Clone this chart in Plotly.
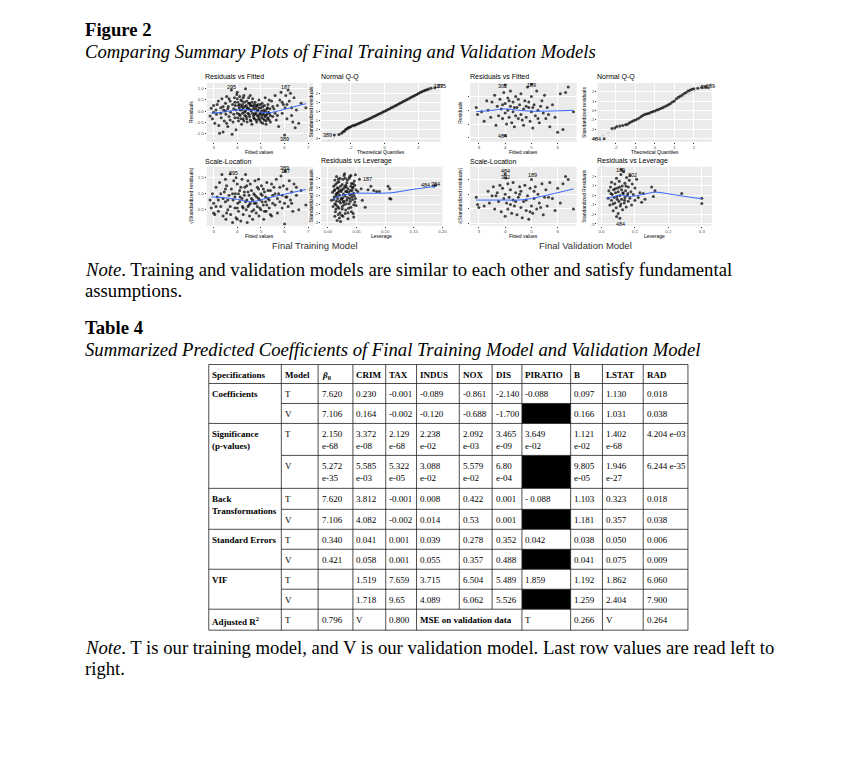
import plotly.graph_objects as go

W, H = 854, 763

# ---------------- DATA ----------------
# Final training model: residuals vs fitted (fitted, residual)
train_rvf = [(2.85,-0.22),(2.9,0.12),(2.95,-0.35),(3.0,0.25),(3.0,-0.05),(3.05,-0.55),(3.1,0.05),(3.12,-0.15),(3.2,0.45),(3.22,-0.65),(3.25,-1.0),(3.3,0.15),(3.32,-0.3),(3.35,0.55),(3.4,-0.95),(3.42,0.05),(3.45,-0.45),(3.5,0.35),(3.52,-0.15),(3.55,0.65),(3.6,-0.7),(3.62,0.2),(3.65,-0.25),(3.7,0.45),(3.72,-0.05),(3.75,0.95),(3.78,-1.05),(3.8,0.3),(3.82,-0.5),(3.85,0.1),(3.88,0.6),(3.9,-0.3),(3.92,0.25),(3.95,-0.85),(3.98,0.75),(4.0,-0.1),(4.02,0.4),(4.05,-0.45),(4.08,0.15),(4.1,0.65),(4.12,-0.2),(4.15,0.5),(4.18,-0.6),(4.2,0.05),(4.22,0.3),(4.25,-0.35),(4.28,0.7),(4.3,-0.05),(4.32,0.2),(4.35,1.0),(4.38,-0.25),(4.4,0.45),(4.42,-0.5),(4.45,0.1),(4.48,0.6),(4.5,-0.15),(4.52,0.35),(4.55,-0.4),(4.58,0.0),(4.6,0.25),(4.62,-0.6),(4.65,0.55),(4.68,-0.2),(4.7,0.1),(4.72,-0.35),(4.75,0.4),(4.78,-0.1),(4.8,0.2),(4.82,-0.5),(4.85,0.0),(4.88,0.3),(4.9,-0.25),(4.92,0.5),(4.95,-0.4),(4.98,-0.1),(5.0,0.15),(5.02,-0.3),(5.05,0.35),(5.08,-0.55),(5.1,-0.15),(5.12,0.05),(5.15,-0.4),(5.18,0.6),(5.2,-0.2),(5.22,-0.6),(5.25,0.1),(5.28,-0.35),(5.3,0.3),(5.35,-0.1),(5.4,-0.5),(5.45,0.45),(5.5,-0.25),(5.55,0.1),(5.6,0.7),(5.65,-0.4),(5.7,0.25),(5.75,-0.7),(5.8,0.5),(5.85,0.85),(5.9,-0.1),(5.95,0.3),(6.0,-1.08),(6.02,0.15),(6.05,0.7),(6.1,-0.35),(6.15,0.95),(6.2,0.45),(6.25,0.8),(6.3,0.15),(6.35,-0.5),(6.4,0.6),(6.45,-0.75),(6.5,0.05),(6.6,-0.55),(6.7,0.35),(6.9,0.15),
             (3.85,-0.15),(3.9,0.4),(3.95,0.05),(4.0,0.55),(4.02,-0.3),(4.05,0.25),(4.08,-0.15),(4.1,0.3),(4.12,0.05),(4.15,-0.35),(4.18,0.2),(4.2,0.45),(4.22,-0.1),(4.25,0.15),(4.28,-0.45),(4.3,0.4),(4.32,-0.2),(4.35,0.0),(4.38,0.25),(4.4,-0.35),(4.42,0.15),(4.45,-0.1),(4.48,0.35),(4.5,0.1),(4.52,-0.25),(4.55,0.25),(4.58,-0.45),(4.6,0.05),(4.62,0.4),(4.65,-0.1),(4.68,0.2),(4.7,-0.3),(4.72,0.3),(4.75,-0.15),(4.78,0.1),(4.8,-0.4),(4.82,0.25),(4.85,-0.2),(4.88,0.05),(4.9,-0.35),(4.92,0.15),(4.95,-0.15),(4.98,0.3),(5.0,-0.5),(5.02,0.0),(5.05,-0.2),(5.08,0.2),(5.1,-0.35),(5.12,-0.05),(5.15,0.25),(5.18,-0.25),(5.2,0.0),(5.22,-0.45),(5.25,-0.15),(5.28,0.15),(5.3,-0.3),(5.32,-0.05),(5.35,-0.4),(5.38,0.1),(5.4,-0.2),(3.5,0.0),(3.6,0.1),(3.4,0.2),(3.3,-0.1),(3.7,-0.4),(3.55,-0.55),(5.5,0.2),(5.6,-0.1),(5.7,-0.2),(5.9,0.4),(6.1,0.3),(6.3,-0.2),(3.15,0.3),(3.65,0.55),(4.0,0.85),(4.25,0.6),(4.55,0.7),(5.35,0.5)]
train_rvf_fit_x = [2.9, 3.5, 4.0, 4.3, 4.6, 5.0, 5.3, 5.6, 6.0, 6.5, 6.9]
train_rvf_fit_y = [-0.1, -0.03, 0.05, 0.07, 0.03, -0.05, -0.08, -0.03, 0.08, 0.22, 0.33]

# training normal Q-Q (theoretical, standardized residual)
train_qq_x = [-2.97,-2.7,-2.55,-2.45,-2.37,-2.3,-2.22,-2.15,-2.08,-2.0,-1.9,-1.8,-1.7,-1.6,-1.5,-1.4,-1.3,-1.2,-1.1,-1.0,-0.9,-0.8,-0.7,-0.6,-0.5,-0.4,-0.3,-0.2,-0.1,0.0,0.1,0.2,0.3,0.4,0.5,0.6,0.7,0.8,0.9,1.0,1.1,1.2,1.3,1.4,1.5,1.6,1.7,1.8,1.9,2.0,2.1,2.2,2.3,2.4,2.5,2.6,2.75,2.97]
train_qq_y = [-2.65,-2.6,-2.45,-2.3,-2.2,-2.05,-1.95,-1.85,-1.78,-1.72,-1.63,-1.56,-1.5,-1.42,-1.35,-1.27,-1.19,-1.1,-1.02,-0.93,-0.84,-0.75,-0.66,-0.56,-0.47,-0.38,-0.28,-0.19,-0.09,0.0,0.09,0.18,0.28,0.37,0.47,0.57,0.67,0.77,0.87,0.97,1.07,1.17,1.27,1.37,1.47,1.57,1.67,1.77,1.87,1.97,2.07,2.16,2.25,2.33,2.4,2.46,2.55,2.62]

# training scale-location (fitted, sqrt|std resid|)
train_sl = [(2.85,0.8),(2.9,0.55),(2.95,1.0),(3.0,0.7),(3.05,0.35),(3.1,1.2),(3.15,0.9),(3.2,0.45),(3.25,1.35),(3.3,0.6),(3.35,1.6),(3.4,0.3),(3.45,1.05),(3.5,0.75),(3.52,0.2),(3.55,1.25),(3.6,0.5),(3.65,0.95),(3.7,1.62),(3.72,0.35),(3.75,1.15),(3.8,0.1),(3.82,0.8),(3.85,1.4),(3.9,0.55),(3.92,1.0),(3.95,0.25),(4.0,1.3),(4.02,0.7),(4.05,0.45),(4.1,1.1),(4.12,0.9),(4.15,0.15),(4.2,1.45),(4.22,0.6),(4.25,0.35),(4.3,0.95),(4.32,1.2),(4.35,1.6),(4.38,0.5),(4.4,0.8),(4.42,0.1),(4.45,1.05),(4.5,0.65),(4.52,0.3),(4.55,1.3),(4.6,0.85),(4.62,0.45),(4.65,0.2),(4.7,1.0),(4.72,0.7),(4.75,1.4),(4.8,0.4),(4.82,0.9),(4.85,0.6),(4.9,1.15),(4.92,0.3),(4.95,0.8),(5.0,0.5),(5.02,1.25),(5.05,0.95),(5.1,0.65),(5.12,0.2),(5.15,1.05),(5.2,0.75),(5.22,0.45),(5.25,1.35),(5.3,0.85),(5.35,0.55),(5.4,1.1),(5.45,0.3),(5.5,0.95),(5.55,1.2),(5.6,0.65),(5.65,1.45),(5.7,0.4),(5.75,1.0),(5.8,0.75),(5.85,1.55),(5.9,0.55),(5.95,1.25),(6.0,0.05),(6.02,1.7),(6.05,0.9),(6.1,1.15),(6.15,0.6),(6.2,1.4),(6.25,0.8),(6.3,1.05),(6.35,0.45),(6.4,1.3),(6.5,0.95),(6.6,0.5),(6.7,1.1),(6.9,0.65),
            (3.4,0.85),(3.5,1.15),(3.6,0.8),(3.7,0.6),(3.8,1.0),(3.9,0.9),(4.0,0.55),(4.05,1.0),(4.1,0.75),(4.15,1.2),(4.2,0.85),(4.25,0.55),(4.3,1.05),(4.35,0.75),(4.4,1.25),(4.45,0.6),(4.5,0.95),(4.55,0.7),(4.6,1.1),(4.65,0.8),(4.7,0.5),(4.75,0.95),(4.8,0.7),(4.85,1.2),(4.9,0.85),(4.95,0.55),(5.0,1.0),(5.05,0.75),(5.1,1.15),(5.15,0.45),(5.2,0.9),(5.25,0.65),(5.3,1.1),(5.35,0.8),(5.4,0.35),(5.5,0.7),(5.6,1.0),(5.7,0.85),(5.8,1.2),(5.9,0.95),(6.0,0.7),(6.1,0.9),(3.3,1.0),(3.2,0.8),(3.1,0.6),(3.0,0.4),(6.3,0.7),(6.5,1.2),(3.55,0.4),(4.0,0.2),(4.45,1.4),(4.9,1.45),(5.45,1.3),(3.95,1.5),(3.5,1.45)]
train_sl_fit_x = [2.9, 3.5, 4.0, 4.5, 4.8, 5.2, 5.8, 6.4, 6.9]
train_sl_fit_y = [0.9, 0.87, 0.82, 0.75, 0.77, 0.85, 0.95, 1.05, 1.13]

# training residuals vs leverage (leverage, std resid)
train_lev = [(0.006,-0.5),(0.008,0.4),(0.009,-1.2),(0.01,1.1),(0.011,-0.1),(0.012,0.7),(0.013,-1.8),(0.014,0.2),(0.015,-0.6),(0.016,1.5),(0.017,-0.3),(0.018,0.9),(0.019,-1.4),(0.02,0.1),(0.021,2.0),(0.022,-0.8),(0.023,0.5),(0.024,-2.2),(0.025,1.3),(0.026,-0.2),(0.027,0.8),(0.028,-1.0),(0.029,2.5),(0.03,0.0),(0.031,-1.6),(0.032,1.0),(0.033,-0.5),(0.034,1.8),(0.035,-2.6),(0.036,0.4),(0.037,-0.9),(0.038,2.2),(0.039,0.6),(0.04,-1.3),(0.041,1.4),(0.042,-0.1),(0.043,0.9),(0.044,-2.0),(0.045,0.3),(0.046,1.7),(0.047,-0.7),(0.048,2.4),(0.049,-1.1),(0.016,-2.8),(0.022,-2.9),(0.028,2.3),(0.018,1.9),(0.012,-2.3),(0.035,-1.9),(0.025,-1.5),(0.014,-1.0),(0.02,0.6),(0.024,-0.4),(0.031,1.2),(0.038,-0.3),(0.042,0.2),(0.016,0.3),(0.027,-0.7),(0.033,0.5),(0.044,1.0),(0.052,0.5),(0.055,1.9),(0.058,0.8),(0.06,-0.5),(0.065,-1.3),(0.07,0.7),(0.075,1.1),(0.08,0.6),(0.085,0.5),(0.09,0.5),(0.105,1.1),(0.108,-0.3),(0.11,-0.35),(0.108,0.8),(0.185,1.1),(0.188,1.2),
             (0.01,-0.4),(0.011,0.6),(0.012,-0.9),(0.013,1.3),(0.014,-1.5),(0.015,0.0),(0.016,0.9),(0.017,-1.2),(0.018,0.4),(0.019,1.6),(0.02,-0.6),(0.021,-1.9),(0.022,1.1),(0.023,-0.3),(0.024,0.7),(0.025,-1.2),(0.026,1.9),(0.027,0.2),(0.028,-0.6),(0.029,1.0),(0.03,-2.0),(0.031,0.5),(0.032,-0.9),(0.033,1.5),(0.034,-0.2),(0.035,0.8),(0.036,-1.4),(0.037,2.0),(0.038,0.1),(0.039,-0.6),(0.04,1.1),(0.041,-1.8),(0.042,0.6),(0.043,-0.4),(0.044,1.4),(0.045,-1.0),(0.046,0.0),(0.047,1.2),(0.048,-0.3),(0.049,0.7),(0.015,2.2),(0.02,-2.5),(0.026,-2.3),(0.03,2.0),(0.04,2.3),(0.045,-2.4),(0.012,1.8),(0.018,-2.1)]
train_lev_fit_x = [0.008, 0.02, 0.035, 0.05, 0.08, 0.11, 0.15, 0.19]
train_lev_fit_y = [-0.4, -0.05, 0.2, 0.3, 0.3, 0.35, 0.75, 1.1]

# Final validation model
valid_rvf = [(2.9,0.1),(2.95,-0.15),(3.1,-0.05),(3.2,-0.4),(3.35,0.0),(3.5,0.3),(3.6,0.55),(3.65,-0.55),(3.7,0.15),(3.75,-0.2),(3.8,0.4),(3.85,0.05),(3.9,-0.3),(3.95,0.65),(4.0,-0.1),(4.0,0.25),(4.05,-0.5),(4.1,0.45),(4.1,0.0),(4.15,-0.25),(4.2,0.7),(4.2,0.15),(4.25,-0.45),(4.3,0.3),(4.3,-0.05),(4.35,-0.6),(4.4,0.5),(4.45,0.1),(4.5,-0.3),(4.55,0.2),(4.6,-0.15),(4.6,0.6),(4.7,-0.55),(4.7,0.05),(4.75,0.35),(4.8,-0.25),(4.85,0.85),(4.9,0.1),(4.95,-0.4),(5.0,0.5),(5.0,-0.05),(5.05,-0.65),(5.1,0.2),(5.15,-0.2),(5.2,0.7),(5.25,0.0),(5.3,-0.45),(5.4,0.35),(5.45,-0.1),(5.5,0.55),(5.55,-0.3),(5.6,0.1),(5.7,-0.6),(5.8,0.2),(5.9,-0.25),(6.0,-0.8),(6.1,0.6),(6.2,-0.7),(6.3,0.65),(6.4,0.85),(6.6,-0.05),(4.0,-0.92),(4.0,0.92),(5.0,0.95),
             (3.3,0.35),(3.9,0.2),(4.15,0.35),(4.35,0.1),(4.5,0.4),(4.65,-0.35),(4.9,0.3),(5.05,0.1),(5.35,0.15),(5.65,-0.15),(3.45,-0.25),(4.4,-0.2),(4.8,0.15),(5.25,-0.3)]
valid_rvf_fit_x = [2.9, 3.5, 4.0, 4.5, 5.0, 5.5, 6.0, 6.6]
valid_rvf_fit_y = [-0.05, 0.0, 0.05, 0.0, -0.03, -0.03, -0.02, 0.0]

valid_qq_x = [-2.6,-2.2,-2.05,-1.95,-1.8,-1.65,-1.5,-1.4,-1.3,-1.2,-1.1,-1.0,-0.9,-0.8,-0.7,-0.6,-0.5,-0.4,-0.3,-0.2,-0.1,0.0,0.1,0.2,0.3,0.4,0.5,0.6,0.7,0.8,0.9,1.0,1.1,1.2,1.3,1.4,1.5,1.6,1.7,1.8,1.9,2.0,2.2,2.4,2.6]
valid_qq_y = [-3.0,-1.9,-1.85,-1.7,-1.65,-1.6,-1.5,-1.45,-1.3,-1.2,-1.1,-1.0,-0.9,-0.8,-0.65,-0.5,-0.4,-0.35,-0.3,-0.2,-0.12,-0.05,0.05,0.1,0.2,0.3,0.4,0.5,0.6,0.75,0.9,1.0,1.25,1.4,1.5,1.65,1.8,1.9,2.05,2.15,2.25,2.3,2.35,2.45,2.5]

valid_sl = [(2.9,0.9),(2.95,0.65),(3.0,0.55),(3.2,0.6),(3.35,1.1),(3.5,0.95),(3.55,1.25),(3.6,0.5),(3.7,1.05),(3.75,0.75),(3.8,1.3),(3.85,0.4),(3.9,1.2),(3.95,0.85),(4.0,0.25),(4.0,1.0),(4.05,0.7),(4.1,1.35),(4.1,0.5),(4.15,0.9),(4.2,1.15),(4.25,0.35),(4.3,0.8),(4.3,1.4),(4.35,0.6),(4.4,1.05),(4.45,0.3),(4.5,0.9),(4.55,1.25),(4.6,0.55),(4.6,1.1),(4.65,0.2),(4.7,0.75),(4.75,1.3),(4.8,0.45),(4.85,0.95),(4.9,0.15),(4.95,1.2),(5.0,0.6),(5.0,1.5),(5.05,0.35),(5.1,0.85),(5.15,1.25),(5.2,0.5),(5.25,1.0),(5.3,0.7),(5.4,1.35),(5.45,0.3),(5.5,0.9),(5.55,1.15),(5.6,0.6),(5.7,1.4),(5.8,0.85),(5.9,0.45),(6.0,1.2),(6.1,0.7),(6.2,1.35),(6.3,1.6),(6.4,1.5),(6.6,0.5),(4.0,1.68),(4.02,1.55),
            (3.4,0.7),(3.65,0.95),(4.2,0.65),(4.4,0.75),(4.55,1.0),(4.8,0.8),(5.1,1.1),(5.35,0.55),(5.65,0.9),(4.95,0.4)]
valid_sl_fit_x = [2.9, 3.5, 4.0, 4.5, 5.0, 5.5, 6.0, 6.6]
valid_sl_fit_y = [0.8, 0.8, 0.8, 0.8, 0.85, 0.95, 1.05, 1.18]

valid_lev = [(0.02,-0.3),(0.022,0.5),(0.025,-1.0),(0.027,0.9),(0.03,-0.5),(0.03,1.4),(0.032,0.1),(0.035,-1.6),(0.036,0.6),(0.038,-0.2),(0.04,1.2),(0.04,-0.8),(0.042,0.3),(0.044,-1.3),(0.045,1.8),(0.046,-0.1),(0.048,0.8),(0.05,-1.9),(0.05,0.4),(0.052,-0.6),(0.053,1.5),(0.055,0.0),(0.056,-1.1),(0.058,2.2),(0.06,0.6),(0.06,-0.4),(0.062,1.0),(0.063,-1.5),(0.065,0.2),(0.066,2.5),(0.068,-0.8),(0.07,1.3),(0.07,-0.2),(0.072,0.5),(0.074,-1.2),(0.075,1.9),(0.077,0.0),(0.08,-0.6),(0.08,0.9),(0.083,1.6),(0.085,-0.3),(0.088,0.4),(0.09,-1.0),(0.092,1.2),(0.095,0.1),(0.1,-0.5),(0.1,0.8),(0.105,1.7),(0.11,-0.2),(0.115,0.3),(0.12,-0.7),(0.125,0.2),(0.13,-0.4),(0.15,0.9),(0.155,-0.1),(0.16,0.5),(0.24,0.2),(0.3,-0.3),(0.3,-0.85),(0.045,-2.2),(0.055,-2.4),(0.06,2.7),(0.085,2.1),
             (0.028,0.2),(0.034,-0.9),(0.041,0.7),(0.047,-0.4),(0.054,0.9),(0.058,-0.9),(0.064,0.3),(0.069,-0.5),(0.073,1.0),(0.079,0.2)]
valid_lev_fit_x = [0.015, 0.04, 0.06, 0.08, 0.1, 0.13, 0.16, 0.23, 0.3]
valid_lev_fit_y = [-0.3, -0.1, 0.05, -0.1, -0.05, 0.15, 0.35, 0.0, -0.35]

# Table 4
table_header = ["Specifications", "Model", "<i>β</i><sub>0</sub>", "CRIM", "TAX", "INDUS", "NOX", "DIS", "PIRATIO", "B", "LSTAT", "RAD"]
spec_labels = ["Coefficients", "Significance<br>(p-values)", "Back<br>Transformations", "Standard Errors", "VIF", "Adjusted R<sup>2</sup>"]
model_labels = ["T", "V"]
coef_T = ["7.620", "0.230", "-0.001", "-0.089", "-0.861", "-2.140", "-0.088", "0.097", "1.130", "0.018"]
coef_V = ["7.106", "0.164", "-0.002", "-0.120", "-0.688", "-1.700", None, "0.166", "1.031", "0.038"]
sig_T = ["2.150<br>e-68", "3.372<br>e-08", "2.129<br>e-68", "2.238<br>e-02", "2.092<br>e-03", "3.465<br>e-09", "3.649<br>e-02", "1.121<br>e-02", "1.402<br>e-68", "4.204 e-03"]
sig_V = ["5.272<br>e-35", "5.585<br>e-03", "5.322<br>e-05", "3.088<br>e-02", "5.579<br>e-02", "6.80<br>e-04", None, "9.805<br>e-05", "1.946<br>e-27", "6.244 e-35"]
back_T = ["7.620", "3.812", "-0.001", "0.008", "0.422", "0.001", "- 0.088", "1.103", "0.323", "0.018"]
back_V = ["7.106", "4.082", "-0.002", "0.014", "0.53", "0.001", None, "1.181", "0.357", "0.038"]
se_T = ["0.340", "0.041", "0.001", "0.039", "0.278", "0.352", "0.042", "0.038", "0.050", "0.006"]
se_V = ["0.421", "0.058", "0.001", "0.055", "0.357", "0.488", None, "0.041", "0.075", "0.009"]
vif_T = ["", "1.519", "7.659", "3.715", "6.504", "5.489", "1.859", "1.192", "1.862", "6.060"]
vif_V = ["", "1.718", "9.65", "4.089", "6.062", "5.526", None, "1.259", "2.404", "7.900"]
last_row = ["T", "0.796", "V", "0.800", "MSE on validation data", "T", "0.266", "V", "0.264"]
last_row_cols = [1, 2, 3, 4, 5, 8, 9, 10, 11]

# ---------------- LAYOUT HELPERS ----------------
def PX(x):
    return x / W

def PY(y):
    return 1 - y / H

SERIF = "Liberation Serif"
SANS = "Liberation Sans"

fig = go.Figure()
annotations = []
shapes = []
layout_axes = {}

panels = [
    dict(box=(208, 315, 83, 142), xr=[2.71, 7.21], yr=[-1.39, 1.27], xt=[3, 4, 5, 6, 7], xtl=["3", "4", "5", "6", "7"],
         yt=[-1, -0.5, 0, 0.5, 1], ytl=["-1.0", "-0.5", "0.0", "0.5", "1.0"], showy=True),
    dict(box=(323, 443, 83, 142), xr=[-3.75, 3.3], yr=[-3.41, 3.15], xt=[-2, 0, 2], xtl=["-2", "0", "2"],
         yt=[-3, -2, -1, 0, 1, 2], ytl=["-3", "-2", "-1", "0", "1", "2"], showy=True),
    dict(box=(208, 315, 167, 226), xr=[2.71, 7.21], yr=[0.0, 1.84], xt=[3, 4, 5, 6, 7], xtl=["3", "4", "5", "6", "7"],
         yt=[0.5, 1.0, 1.5], ytl=["0.5", "1.0", "1.5"], showy=True),
    dict(box=(323, 445, 167, 226), xr=[-0.012, 0.2], yr=[-3.38, 3.3], xt=[0, 0.05, 0.1, 0.15, 0.2], xtl=["0.00", "0.05", "0.10", "0.15", "0.20"],
         yt=[-3, -2, -1, 0, 1, 2], ytl=["-3", "-2", "-1", "0", "1", "2"], showy=True),
    dict(box=(473, 580, 83, 142), xr=[2.67, 6.72], yr=[-1.15, 1.0], xt=[3, 4, 5, 6], xtl=["3", "4", "5", "6"],
         yt=[-1, -0.5, 0, 0.5], ytl=["-1.0", "-0.5", "0.0", "0.5"], showy=False),
    dict(box=(601, 716, 83, 142), xr=[-2.94, 2.92], yr=[-3.32, 2.92], xt=[-2, -1, 0, 1, 2], xtl=["-2", "-1", "0", "1", "2"],
         yt=[-3, -2, -1, 0, 1, 2], ytl=["-3", "-2", "-1", "0", "1", "2"], showy=True),
    dict(box=(473, 580, 167, 226), xr=[2.67, 6.72], yr=[-0.07, 1.93], xt=[3, 4, 5, 6], xtl=["3", "4", "5", "6"],
         yt=[0, 0.5, 1.0, 1.5], ytl=["0.0", "0.5", "1.0", "1.5"], showy=False),
    dict(box=(601, 716, 167, 226), xr=[-0.012, 0.33], yr=[-3.18, 3.02], xt=[0, 0.1, 0.2, 0.3], xtl=["0.0", "0.1", "0.2", "0.3"],
         yt=[-3, -2, -1, 0, 1, 2], ytl=["-3", "-2", "-1", "0", "1", "2"], showy=True),
]

titles = ["Residuals vs Fitted", "Normal Q-Q", "Scale-Location", "Residuals vs Leverage"] * 2
xtitles = ["Fitted values", "Theoretical Quantiles", "Fitted values", "Leverage"] * 2
ytitles = ["Residuals", "Standardized residuals", "√|Standardized residuals|", "Standardized Residuals"] * 2
ytitle_x = [192, 313, 192, 313, 463, 588, 463, 588]

TICKFONT = dict(family=SANS, size=4.3, color="#4d4d4d")
for i, p in enumerate(panels):
    n = i + 1
    sfx = "" if n == 1 else str(n)
    x0, x1, y0, y1 = p["box"]
    layout_axes["xaxis" + sfx] = dict(
        domain=[PX(x0), PX(x1)], range=p["xr"], anchor="y" + sfx,
        tickmode="array", tickvals=p["xt"], ticktext=p["xtl"],
        showgrid=True, gridcolor="white", gridwidth=0.7, zeroline=False,
        ticks="outside", ticklen=1.2, tickwidth=0.5, tickcolor="#333333",
        tickfont=TICKFONT, showline=False, fixedrange=True)
    layout_axes["yaxis" + sfx] = dict(
        domain=[PY(y1), PY(y0)], range=p["yr"], anchor="x" + sfx,
        tickmode="array", tickvals=p["yt"], ticktext=p["ytl"],
        showticklabels=p["showy"],
        showgrid=True, gridcolor="white", gridwidth=0.7, zeroline=False,
        ticks="outside", ticklen=1.2, tickwidth=0.5, tickcolor="#333333",
        tickfont=TICKFONT, showline=False, fixedrange=True)
    annotations.append(dict(text=titles[i], x=PX(x0 - 4 if i in (0, 2) else x0 - 2), y=PY(77 if y0 < 100 else 161.5),
                            xref="paper", yref="paper", xanchor="left", yanchor="middle", showarrow=False,
                            font=dict(family=SANS, size=7.0, color="black")))
    annotations.append(dict(text=xtitles[i], x=PX((x0 + x1) / 2), y=PY(y1 + 10.5),
                            xref="paper", yref="paper", xanchor="center", yanchor="middle", showarrow=False,
                            font=dict(family=SANS, size=5.0, color="black")))
    annotations.append(dict(text=ytitles[i], x=PX(ytitle_x[i]), y=PY((y0 + y1) / 2), textangle=-90,
                            xref="paper", yref="paper", xanchor="center", yanchor="middle", showarrow=False,
                            font=dict(family=SANS, size=5.0, color="black")))

def ax(n):
    return ("x" if n == 1 else "x" + str(n)), ("y" if n == 1 else "y" + str(n))

MARK = dict(size=3.0, color="rgba(0,0,0,0.72)", line=dict(width=0))
BLUE = dict(color="#3366FF", width=1.0)

def scatter_pairs(n, pts):
    xa, ya = ax(n)
    fig.add_trace(go.Scatter(x=[p[0] for p in pts], y=[p[1] for p in pts], mode="markers",
                             marker=MARK, xaxis=xa, yaxis=ya, showlegend=False, hoverinfo="skip"))

def scatter_xy(n, xs, ys):
    xa, ya = ax(n)
    fig.add_trace(go.Scatter(x=xs, y=ys, mode="markers", marker=MARK, xaxis=xa, yaxis=ya,
                             showlegend=False, hoverinfo="skip"))

def smooth(n, xs, ys):
    xa, ya = ax(n)
    fig.add_trace(go.Scatter(x=xs, y=ys, mode="lines", line=dict(shape="spline", smoothing=0.8, **BLUE),
                             xaxis=xa, yaxis=ya, showlegend=False, hoverinfo="skip"))

def hline0(n):
    xa, ya = ax(n)
    shapes.append(dict(type="line", xref=xa + " domain", yref=ya, x0=0, x1=1, y0=0, y1=0,
                       line=dict(color="#bbbbbb", width=0.6, dash="dot"), layer="below"))

def qqref(n, lo, hi):
    xa, ya = ax(n)
    fig.add_trace(go.Scatter(x=[lo, hi], y=[lo, hi], mode="lines",
                             line=dict(color="#b0b0b0", width=0.6, dash="dot"),
                             xaxis=xa, yaxis=ya, showlegend=False, hoverinfo="skip"))

def label(n, txt, x, y, anchor="center"):
    xa, ya = ax(n)
    annotations.append(dict(text=txt, x=x, y=y, xref=xa, yref=ya, showarrow=False, xanchor=anchor,
                            yanchor="middle", font=dict(family=SANS, size=5.4, color="black")))

# training panels
hline0(1)
scatter_pairs(1, train_rvf)
smooth(1, train_rvf_fit_x, train_rvf_fit_y)
label(1, "295", 3.75, 1.1); label(1, "187", 6.05, 1.1); label(1, "389", 6.0, -1.25)

qqref(2, -3.4, 3.2)
scatter_xy(2, train_qq_x, train_qq_y)
label(2, "389", -3.0, -2.7, "right"); label(2, "187", 2.78, 2.78, "left"); label(2, "295", 2.98, 2.78, "left")

scatter_pairs(3, train_sl)
smooth(3, train_sl_fit_x, train_sl_fit_y)
label(3, "295", 3.85, 1.64); label(3, "389", 6.0, 1.79); label(3, "187", 6.02, 1.7)

hline0(4)
scatter_pairs(4, train_lev)
smooth(4, train_lev_fit_x, train_lev_fit_y)
label(4, "187", 0.057, 1.9, "left"); label(4, "484", 0.17, 1.2); label(4, "384", 0.188, 1.3)

# validation panels
hline0(5)
scatter_pairs(5, valid_rvf)
smooth(5, valid_rvf_fit_x, valid_rvf_fit_y)
label(5, "302", 3.9, 0.9); label(5, "189", 5.0, 0.92); label(5, "484", 3.9, -0.95)

qqref(6, -3.0, 3.0)
scatter_xy(6, valid_qq_x, valid_qq_y)
label(6, "484", -2.65, -3.0, "right"); label(6, "302", 2.28, 2.5, "left"); label(6, "189", 2.5, 2.55, "left")

scatter_pairs(7, valid_sl)
smooth(7, valid_sl_fit_x, valid_sl_fit_y)
label(7, "484", 4.0, 1.8); label(7, "302", 4.02, 1.6); label(7, "189", 5.05, 1.66)

hline0(8)
scatter_pairs(8, valid_lev)
smooth(8, valid_lev_fit_x, valid_lev_fit_y)
label(8, "189", 0.058, 2.65); label(8, "302", 0.092, 2.2); label(8, "484", 0.058, -3.0)

annotations.append(dict(text="Final Training Model", x=PX(317), y=PY(246), xref="paper", yref="paper",
                        xanchor="center", yanchor="middle", showarrow=False,
                        font=dict(family=SANS, size=9.5, color="#333333")))
annotations.append(dict(text="Final Validation Model", x=PX(589), y=PY(246), xref="paper", yref="paper",
                        xanchor="center", yanchor="middle", showarrow=False,
                        font=dict(family=SANS, size=9.5, color="#333333")))

# ---------------- PAGE TEXT ----------------
def page_text(txt, x, y, size=18.7):
    annotations.append(dict(text=txt, x=PX(x), y=PY(y), xref="paper", yref="paper", xanchor="left",
                            yanchor="middle", showarrow=False, font=dict(family=SERIF, size=size, color="black")))

page_text("<b>Figure 2</b>", 83, 30)
page_text("<i>Comparing Summary Plots of Final Training and Validation Models</i>", 83, 51.5)
page_text("<i>Note</i>. Training and validation models are similar to each other and satisfy fundamental", 83, 270)
page_text("assumptions.", 83, 291)
page_text("<b>Table 4</b>", 83, 328)
page_text("<i>Summarized Predicted Coefficients of Final Training Model and Validation Model</i>", 83, 350)
page_text("<i>Note</i>. T is our training model, and V is our validation model. Last row values are read left to", 83, 648)
page_text("right.", 83, 669)

# ---------------- TABLE ----------------
col_edges = [210, 283, 320, 355, 388, 419, 462, 495, 525, 574, 606, 647, 692]
row_edges = [365, 384, 404, 424, 456, 489, 510, 530, 550, 570, 590, 610, 631]
TFS = 9
LINE = dict(color="#222222", width=0.8)

def cell_text(txt, col, row, bold=False):
    if txt is None or txt == "":
        return
    t = f"<b>{txt}</b>" if bold else txt
    annotations.append(dict(text=t, x=PX(col_edges[col] + 1.5), y=PY(row_edges[row] + 3.5), xref="paper", yref="paper",
                            xanchor="left", yanchor="top", align="left", showarrow=False,
                            font=dict(family=SERIF, size=TFS, color="black")))

def black_cell(col, row):
    shapes.append(dict(type="rect", xref="paper", yref="paper",
                       x0=PX(col_edges[col]), x1=PX(col_edges[col + 1]),
                       y0=PY(row_edges[row + 1]), y1=PY(row_edges[row]),
                       fillcolor="black", line=dict(width=0)))

for c, h in enumerate(table_header):
    cell_text(h, c, 0, bold=True)

groups = [(coef_T, coef_V), (sig_T, sig_V), (back_T, back_V), (se_T, se_V), (vif_T, vif_V)]
for g, (tv, vv) in enumerate(groups):
    r_t = 1 + 2 * g
    r_v = r_t + 1
    cell_text(spec_labels[g], 0, r_t, bold=True)
    cell_text(model_labels[0], 1, r_t)
    cell_text(model_labels[1], 1, r_v)
    for k, val in enumerate(tv):
        cell_text(val, k + 2, r_t)
    for k, val in enumerate(vv):
        if val is None:
            black_cell(k + 2, r_v)
        else:
            cell_text(val, k + 2, r_v)

last_r = 11
cell_text(spec_labels[5], 0, last_r, bold=True)
for val, c in zip(last_row, last_row_cols):
    cell_text(val, c, last_r, bold=(val == "MSE on validation data"))

full_rows = [0, 1, 3, 5, 7, 9, 11, 12]
part_rows = [2, 4, 6, 8, 10]
for r in full_rows:
    shapes.append(dict(type="line", xref="paper", yref="paper", x0=PX(col_edges[0]), x1=PX(col_edges[-1]),
                       y0=PY(row_edges[r]), y1=PY(row_edges[r]), line=LINE))
for r in part_rows:
    shapes.append(dict(type="line", xref="paper", yref="paper", x0=PX(col_edges[1]), x1=PX(col_edges[-1]),
                       y0=PY(row_edges[r]), y1=PY(row_edges[r]), line=LINE))
for ci, cx in enumerate(col_edges):
    bottom = row_edges[11] if ci in (6, 7) else row_edges[12]
    shapes.append(dict(type="line", xref="paper", yref="paper", x0=PX(cx), x1=PX(cx),
                       y0=PY(bottom), y1=PY(row_edges[0]), line=LINE))

fig.update_layout(
    width=W, height=H, margin=dict(l=0, r=0, t=0, b=0),
    paper_bgcolor="white", plot_bgcolor="#ebebeb",
    annotations=annotations, shapes=shapes, showlegend=False,
    **layout_axes,
)

fig.write_html("out.html", config={"displayModeBar": False})
